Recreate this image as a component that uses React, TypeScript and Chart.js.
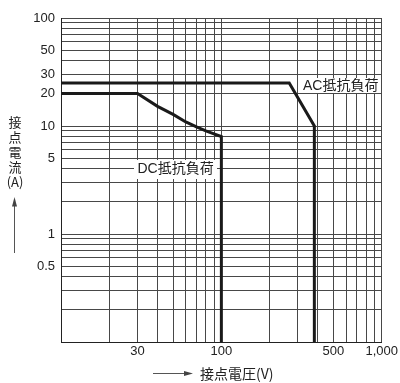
import React, { useEffect, useRef } from "react";
import { Chart, registerables } from "chart.js";

Chart.register(...registerables);

// Grid values (log axes)
const xGridValues = [10, 20, 30, 40, 50, 60, 70, 80, 90, 100, 200, 300, 400, 500, 600, 700, 800, 900, 1000];
const xLabelValues = [30, 100, 500, 1000];
const xLabelTexts = ["30", "100", "500", "1,000"];

const yGridValues = [
  0.1, 0.2, 0.3, 0.4, 0.5, 0.6, 0.7, 0.8, 0.9,
  1, 2, 3, 4, 5, 6, 7, 8, 9,
  10, 20, 30, 40, 50, 60, 70, 80, 90, 100,
];
const yLabelValues = [0.5, 1, 5, 10, 20, 30, 50, 100];
const yLabelTexts = ["0.5", "1", "5", "10", "20", "30", "50", "100"];

// DC resistive load curve
const dcVoltage = [10, 30, 40, 50, 60, 70, 80, 100, 100];
const dcCurrent = [20, 20, 15.2, 12.8, 10.9, 9.8, 9, 8, 0.1];

// AC resistive load curve
const acVoltage = [10, 265, 380, 380];
const acCurrent = [25, 25, 10, 0.1];

const acLabel = "AC抵抗負荷";
const dcLabel = "DC抵抗負荷";
const yTitleChars = ["接", "点", "電", "流", "(A)"];
const xTitle = "接点電圧(V)";

const LATIN = '"Liberation Sans", Arial, sans-serif';
const CJK = '"Liberation Sans", "Noto Sans CJK JP", sans-serif';
const CJK_ONLY = '"Noto Sans CJK JP", sans-serif';

const annotPlugin = {
  id: "annot",
  beforeDatasetsDraw(chart: any) {
    const ctx = chart.ctx as CanvasRenderingContext2D;
    ctx.save();
    // label boxes (hide grid behind text)
    ctx.fillStyle = "#ffffff";
    ctx.fillRect(298, 78, 81, 15);
    ctx.fillRect(134, 160, 83, 19);
    ctx.fillStyle = "#222";
    ctx.font = "14px " + CJK;
    ctx.textAlign = "left";
    ctx.textBaseline = "middle";
    ctx.fillText(acLabel, 303, 86);
    ctx.fillText(dcLabel, 137.5, 169);
    ctx.restore();
  },
  afterDraw(chart: any) {
    const ctx = chart.ctx as CanvasRenderingContext2D;
    ctx.save();
    ctx.fillStyle = "#222";
    ctx.font = "13px " + CJK_ONLY;
    ctx.textAlign = "center";
    ctx.textBaseline = "middle";
    const ys = [122.5, 137.5, 152.5, 167.5, 182.5];
    yTitleChars.forEach((c, i) => ctx.fillText(c, 15, ys[i]));
    // y arrow
    ctx.strokeStyle = "#555";
    ctx.fillStyle = "#444";
    ctx.lineWidth = 1;
    ctx.beginPath();
    ctx.moveTo(14.5, 253);
    ctx.lineTo(14.5, 204);
    ctx.stroke();
    ctx.beginPath();
    ctx.moveTo(14.5, 197);
    ctx.lineTo(12, 206.5);
    ctx.lineTo(17, 206.5);
    ctx.closePath();
    ctx.fill();
    // x arrow
    ctx.beginPath();
    ctx.moveTo(153, 373.5);
    ctx.lineTo(186, 373.5);
    ctx.stroke();
    ctx.beginPath();
    ctx.moveTo(193, 373.5);
    ctx.lineTo(184, 371);
    ctx.lineTo(184, 376);
    ctx.closePath();
    ctx.fill();
    // x title
    ctx.fillStyle = "#222";
    ctx.textAlign = "left";
    ctx.font = "14px " + CJK_ONLY;
    ctx.fillText(xTitle, 200, 373.5);
    ctx.restore();
  },
};

export default function App() {
  const canvasRef = useRef<HTMLCanvasElement | null>(null);

  useEffect(() => {
    if (!canvasRef.current) return;
    const dcData = dcVoltage.map((v, i) => ({ x: v, y: dcCurrent[i] }));
    const acData = acVoltage.map((v, i) => ({ x: v, y: acCurrent[i] }));
    const chart = new Chart(canvasRef.current, {
      type: "line",
      data: {
        datasets: [
          {
            label: "DC",
            data: dcData,
            borderColor: "#1a1a1a",
            borderWidth: 3,
            pointRadius: 0,
            fill: false,
            tension: 0,
            borderJoinStyle: "miter",
          },
          {
            label: "AC",
            data: acData,
            borderColor: "#1a1a1a",
            borderWidth: 3,
            pointRadius: 0,
            fill: false,
            tension: 0,
            borderJoinStyle: "miter",
          },
        ],
      },
      options: {
        responsive: false,
        animation: false,
        events: [],
        layout: { padding: { top: 18, right: 16, left: 0, bottom: 0 } },
        plugins: { legend: { display: false }, tooltip: { enabled: false } },
        scales: {
          x: {
            type: "logarithmic",
            min: 10,
            max: 1000,
            afterBuildTicks: (s: any) => {
              s.ticks = xGridValues.map((v) => ({ value: v }));
            },
            afterFit: (s: any) => {
              s.height = 41;
            },
            ticks: {
              autoSkip: false,
              maxRotation: 0,
              minRotation: 0,
              padding: 2,
              color: "#222",
              font: { family: LATIN, size: 13 },
              callback: (v: any) => {
                const i = xLabelValues.indexOf(Number(v));
                return i >= 0 ? xLabelTexts[i] : "";
              },
            },
            grid: { color: "#484848", lineWidth: 1, drawTicks: false },
            border: { color: "#222", width: 1 },
          },
          y: {
            type: "logarithmic",
            min: 0.1,
            max: 100,
            afterBuildTicks: (s: any) => {
              s.ticks = yGridValues.map((v) => ({ value: v }));
            },
            afterFit: (s: any) => {
              s.width = 61;
            },
            ticks: {
              autoSkip: false,
              padding: 6,
              color: "#222",
              font: { family: LATIN, size: 13 },
              callback: (v: any) => {
                const i = yLabelValues.indexOf(Number(v));
                return i >= 0 ? yLabelTexts[i] : "";
              },
            },
            grid: { color: "#484848", lineWidth: 1, drawTicks: false },
            border: { color: "#222", width: 1 },
          },
        },
      } as any,
      plugins: [annotPlugin],
    });
    return () => chart.destroy();
  }, []);

  return (
    <div style={{ position: "fixed", left: 0, top: 0, width: 400, height: 383, background: "#fff" }}>
      <canvas ref={canvasRef} width={400} height={383} style={{ display: "block" }} />
    </div>
  );
}
